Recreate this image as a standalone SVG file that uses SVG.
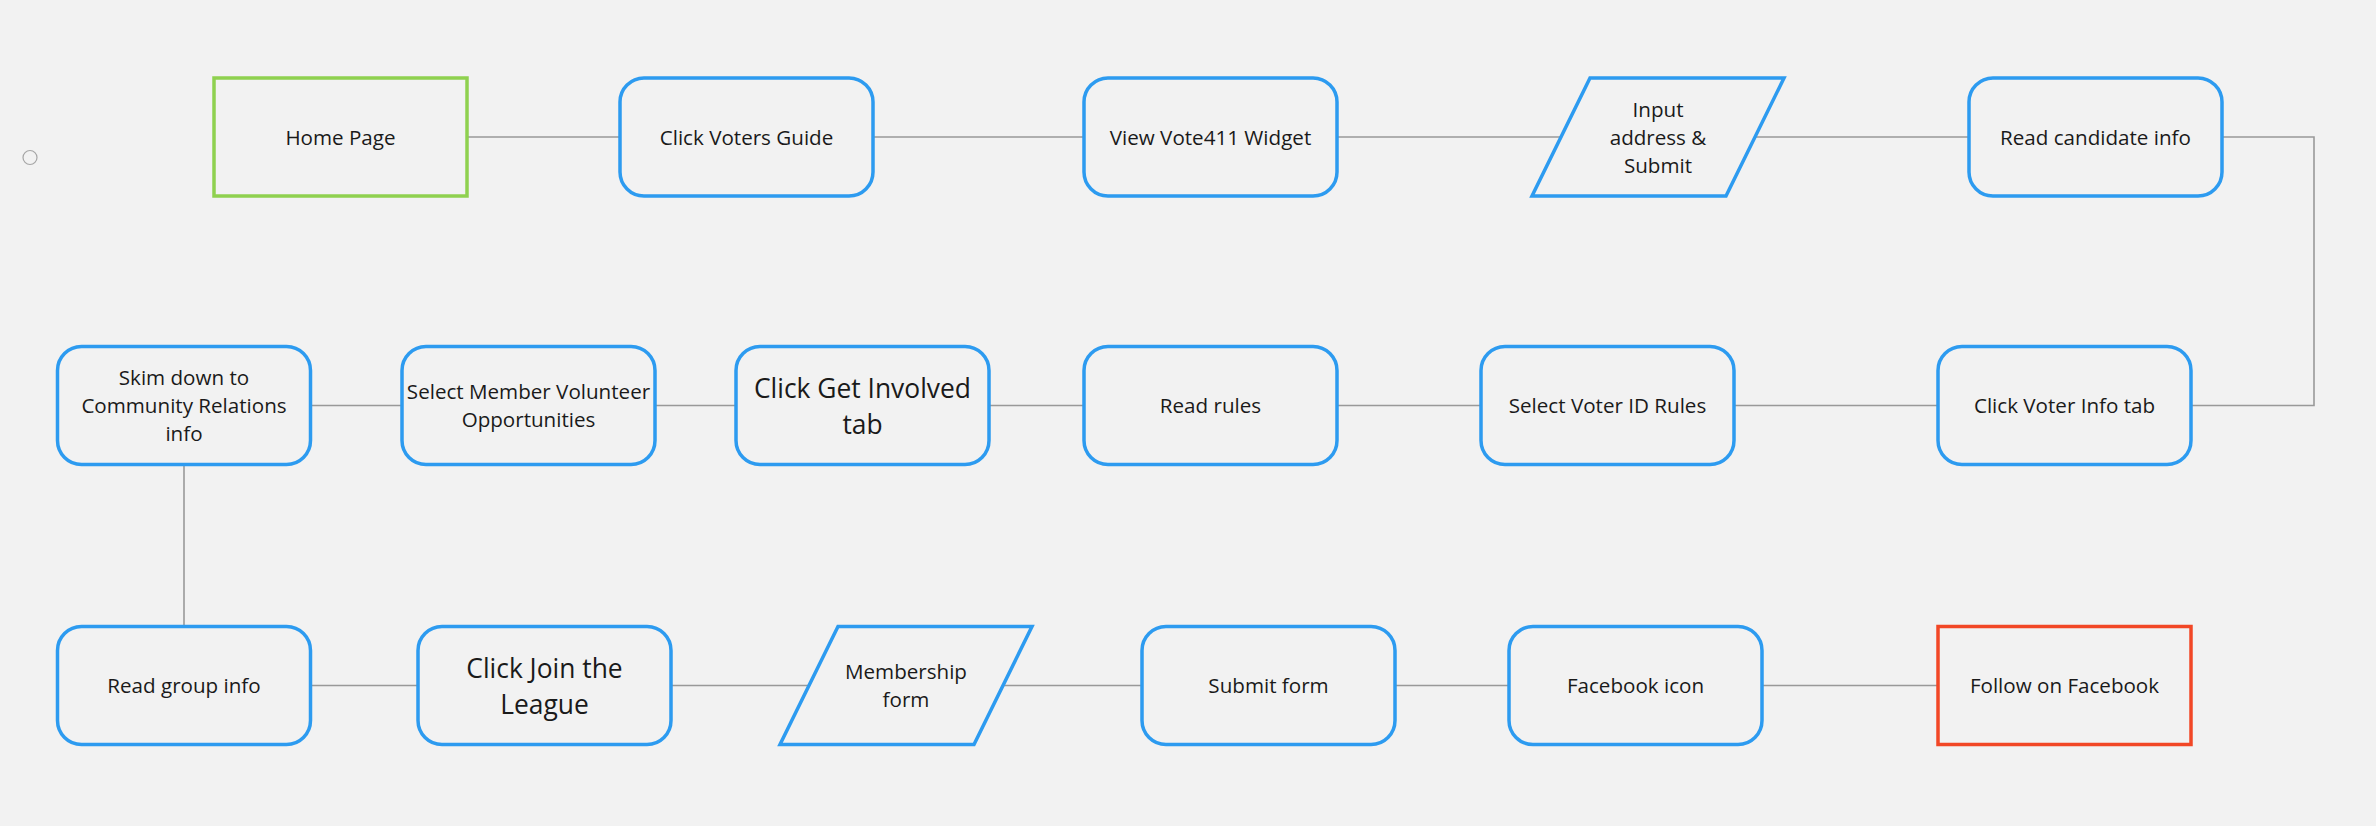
<svg xmlns="http://www.w3.org/2000/svg" width="2376" height="826" viewBox="0 0 2376 826">
<style>
.bg{fill:#f2f2f2}
.node{fill:#f2f2f2;stroke:#2d9bf0;stroke-width:3.5}
.start{fill:#f2f2f2;stroke:#8fd14f;stroke-width:3.5}
.end{fill:#f2f2f2;stroke:#f24726;stroke-width:3.5}
.conn{fill:none;stroke:#999999;stroke-width:1.6}
text{font-family:"Open Sans","Noto Sans","Liberation Sans",sans-serif;font-size:20.6px;fill:#1a1a1a;text-anchor:middle}
text.big{font-size:26.4px}
</style>
<rect class="bg" x="0" y="0" width="2376" height="826"/>
<circle cx="30" cy="157.5" r="7" fill="none" stroke="#a6a6a6" stroke-width="1.2"/>
<g id="connectors">
<path class="conn" d="M467 137H620"/>
<path class="conn" d="M873 137H1084"/>
<path class="conn" d="M1337 137H1561"/>
<path class="conn" d="M1755 137H1969"/>
<path class="conn" d="M2222 137H2314V405.5H2191"/>
<path class="conn" d="M1938 405.5H1734"/>
<path class="conn" d="M1481 405.5H1337"/>
<path class="conn" d="M1084 405.5H989"/>
<path class="conn" d="M736 405.5H655"/>
<path class="conn" d="M402 405.5H311"/>
<path class="conn" d="M184 464V626"/>
<path class="conn" d="M310 685.5H418"/>
<path class="conn" d="M671 685.5H809"/>
<path class="conn" d="M1003 685.5H1142"/>
<path class="conn" d="M1395 685.5H1509"/>
<path class="conn" d="M1762 685.5H1938"/>
</g>
<g id="home-page"><rect class="start" x="214" y="78" width="253" height="118"/><text x="340.5" y="144.5">Home Page</text></g>
<g id="click-voters-guide"><rect class="node" x="620" y="78" width="253" height="118" rx="24"/><text x="746.5" y="144.5">Click Voters Guide</text></g>
<g id="view-vote411"><rect class="node" x="1084" y="78" width="253" height="118" rx="24"/><text x="1210.5" y="144.5">View Vote411 Widget</text></g>
<g id="input-address"><polygon class="node" points="1590,78 1784,78 1726,196 1532,196"/><text x="1658" y="117">Input</text><text x="1658" y="145">address &amp;</text><text x="1658" y="173">Submit</text></g>
<g id="read-candidate"><rect class="node" x="1969" y="78" width="253" height="118" rx="24"/><text x="2095.5" y="144.5">Read candidate info</text></g>
<g id="click-voter-info"><rect class="node" x="1938" y="346.5" width="253" height="118" rx="24"/><text x="2064.5" y="413">Click Voter Info tab</text></g>
<g id="select-voter-id"><rect class="node" x="1481" y="346.5" width="253" height="118" rx="24"/><text x="1607.5" y="413">Select Voter ID Rules</text></g>
<g id="read-rules"><rect class="node" x="1084" y="346.5" width="253" height="118" rx="24"/><text x="1210.5" y="413">Read rules</text></g>
<g id="click-get-involved"><rect class="node" x="736" y="346.5" width="253" height="118" rx="24"/><text class="big" x="862.5" y="398">Click Get Involved</text><text class="big" x="862.5" y="434">tab</text></g>
<g id="select-member"><rect class="node" x="402" y="346.5" width="253" height="118" rx="24"/><text x="528.5" y="399">Select Member Volunteer</text><text x="528.5" y="427">Opportunities</text></g>
<g id="skim-down"><rect class="node" x="57.5" y="346.5" width="253" height="118" rx="24"/><text x="184" y="385">Skim down to</text><text x="184" y="413">Community Relations</text><text x="184" y="441">info</text></g>
<g id="read-group"><rect class="node" x="57.5" y="626.5" width="253" height="118" rx="24"/><text x="184" y="693">Read group info</text></g>
<g id="click-join"><rect class="node" x="418" y="626.5" width="253" height="118" rx="24"/><text class="big" x="544.5" y="678">Click Join the</text><text class="big" x="544.5" y="714">League</text></g>
<g id="membership-form"><polygon class="node" points="838,626.5 1032,626.5 974,744.5 780,744.5"/><text x="906" y="679">Membership</text><text x="906" y="707">form</text></g>
<g id="submit-form"><rect class="node" x="1142" y="626.5" width="253" height="118" rx="24"/><text x="1268.5" y="693">Submit form</text></g>
<g id="facebook-icon"><rect class="node" x="1509" y="626.5" width="253" height="118" rx="24"/><text x="1635.5" y="693">Facebook icon</text></g>
<g id="follow-facebook"><rect class="end" x="1938" y="626.5" width="253" height="118"/><text x="2064.5" y="693">Follow on Facebook</text></g>
</svg>
